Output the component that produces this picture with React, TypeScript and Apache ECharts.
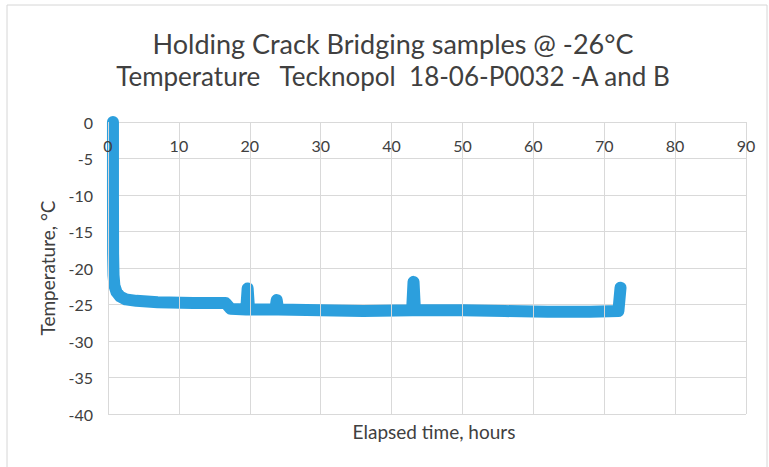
import React, { useEffect, useRef } from "react";
import * as echarts from "echarts";

const titleLines = [
  "Holding Crack Bridging samples @ -26°C",
  "Temperature   Tecknopol  18-06-P0032 -A and B",
];
const xAxisTitle = "Elapsed time, hours";
const yAxisTitle = "Temperature, °C";

const hours = [
  0.7, 0.7, 0.72, 0.78, 0.9, 1.2, 1.7, 2.5, 4, 7, 12, 16.6, 17.3, 19.5, 19.7,
  19.9, 21.5, 23.6, 23.8, 24.0, 30, 36, 42.9, 43.1, 43.3, 50, 56, 62, 68,
  72.0, 72.3,
];
const temps = [
  0, -10, -18, -21, -22.4, -23.3, -23.9, -24.3, -24.5, -24.7, -24.8, -24.8,
  -25.6, -25.7, -22.8, -25.7, -25.7, -25.7, -24.4, -25.7, -25.8, -25.9, -25.8,
  -21.9, -25.8, -25.8, -25.9, -26, -26, -25.9, -22.7,
];

const xTicks = { min: 0, max: 90, interval: 10 };
const yTicks = { min: -40, max: 0, interval: 5 };

const FONT = "Lato, 'Open Sans', sans-serif";
const TEXT = "#404040";

export default function App() {
  const ref = useRef<HTMLDivElement>(null);
  useEffect(() => {
    document.body.style.margin = "0";
    if (!ref.current) return;
    const chart = echarts.init(ref.current, null, { renderer: "svg" });
    const data = hours.map((h, i) => [h, temps[i]]);
    chart.setOption({
      animation: false,
      backgroundColor: "#ffffff",
      textStyle: { fontFamily: FONT },
      graphic: [
        {
          type: "rect",
          shape: { x: 7, y: 5, width: 760, height: 470 },
          style: { fill: "none", stroke: "#d6d6d6", lineWidth: 1 },
          silent: true,
        },
        {
          type: "text",
          x: 393,
          y: 43,
          style: {
            text: titleLines[0],
            fill: TEXT,
            font: `27px ${FONT}`,
            textAlign: "center",
            textVerticalAlign: "middle",
          },
        },
        {
          type: "text",
          x: 393,
          y: 76,
          style: {
            text: titleLines[1],
            fill: TEXT,
            font: `26px ${FONT}`,
            textAlign: "center",
            textVerticalAlign: "middle",
          },
        },
        {
          type: "text",
          x: 434,
          y: 431,
          style: {
            text: xAxisTitle,
            fill: TEXT,
            font: `19px ${FONT}`,
            textAlign: "center",
            textVerticalAlign: "middle",
          },
        },
        {
          type: "text",
          x: 47,
          y: 268,
          rotation: Math.PI / 2,
          style: {
            text: yAxisTitle,
            fill: TEXT,
            font: `19px ${FONT}`,
            textAlign: "center",
            textVerticalAlign: "middle",
          },
        },
      ],
      grid: { left: 108, right: 23, top: 122, bottom: 53, containLabel: false },
      xAxis: {
        type: "value",
        position: "top",
        z: 10,
        min: xTicks.min,
        max: xTicks.max,
        interval: xTicks.interval,
        axisLine: { show: false },
        axisTick: { show: false },
        axisLabel: {
          inside: true,
          margin: 15,
          showMinLabel: true,
          showMaxLabel: true,
          color: TEXT,
          fontSize: 16,
          fontFamily: FONT,
        },
        splitLine: { show: true, lineStyle: { color: "#d9d9d9", width: 1 } },
      },
      yAxis: {
        type: "value",
        min: yTicks.min,
        max: yTicks.max,
        interval: yTicks.interval,
        axisLine: { show: false },
        axisTick: { show: false },
        axisLabel: { color: TEXT, fontSize: 16, fontFamily: FONT, margin: 15 },
        splitLine: { show: true, lineStyle: { color: "#d9d9d9", width: 1 } },
      },
      series: [
        {
          type: "line",
          data,
          showSymbol: false,
          symbol: "none",
          lineStyle: { color: "#2c9fdd", width: 12, cap: "round", join: "round" },
          z: 3,
        },
      ],
    });
    return () => chart.dispose();
  }, []);
  return <div ref={ref} style={{ width: 769, height: 467 }} />;
}
